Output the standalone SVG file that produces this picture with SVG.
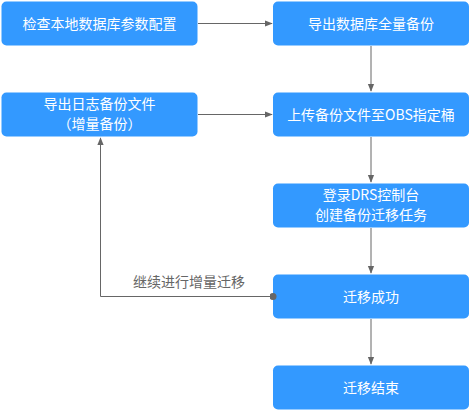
<svg xmlns="http://www.w3.org/2000/svg" width="471" height="411" viewBox="0 0 471 411">
<defs>
<marker id="arr" viewBox="0 0 10 10" refX="9" refY="5" markerWidth="8" markerHeight="8" markerUnits="userSpaceOnUse" orient="auto"><path d="M0,1 L10,5 L0,9 Z" fill="#666"/></marker>
<marker id="dot" viewBox="0 0 10 10" refX="5" refY="5" markerWidth="7" markerHeight="7" markerUnits="userSpaceOnUse"><circle cx="5" cy="5" r="5" fill="#666"/></marker>
</defs>
<style>
.box{fill:#3399ff;}
.t{fill:#fff;font-family:"Noto Sans CJK SC","Liberation Sans",sans-serif;font-size:14px;text-anchor:middle;}
.e{stroke:#666;stroke-width:1;fill:none;}
.lbl{fill:#666;font-family:"Noto Sans CJK SC","Liberation Sans",sans-serif;font-size:14px;text-anchor:middle;}
</style>
<rect width="471" height="411" fill="#fff"/>
<g id="n1"><rect class="box" x="1.5" y="1.5" width="196" height="44" rx="5"/><text class="t" x="99.5" y="28.5">检查本地数据库参数配置</text></g>
<g id="n2"><rect class="box" x="273" y="1.5" width="196" height="44" rx="5"/><text class="t" x="371" y="28.5">导出数据库全量备份</text></g>
<g id="n3"><rect class="box" x="1.5" y="92.5" width="196" height="44" rx="5"/><text class="t" x="99.5" y="109">导出日志备份文件</text><text class="t" x="99.5" y="129">（增量备份）</text></g>
<g id="n4"><rect class="box" x="273" y="92.5" width="196" height="44" rx="5"/><text class="t" x="371" y="119.5">上传备份文件至OBS指定桶</text></g>
<g id="n5"><rect class="box" x="273" y="183.5" width="196" height="44" rx="5"/><text class="t" x="371" y="200">登录DRS控制台</text><text class="t" x="371" y="220">创建备份迁移任务</text></g>
<g id="n6"><rect class="box" x="273" y="274.5" width="196" height="44" rx="5"/><text class="t" x="371" y="301.5">迁移成功</text></g>
<g id="n7"><rect class="box" x="273" y="365.5" width="196" height="44" rx="5"/><text class="t" x="371" y="392.5">迁移结束</text></g>
<g id="connectors">
<path class="e" d="M198,23.5 H272" marker-end="url(#arr)"/>
<path class="e" d="M198,114.5 H272" marker-end="url(#arr)"/>
<path class="e" d="M371,46 V91" marker-end="url(#arr)"/>
<path class="e" d="M371,137 V182" marker-end="url(#arr)"/>
<path class="e" d="M371,228 V273" marker-end="url(#arr)"/>
<path class="e" d="M371,319 V364" marker-end="url(#arr)"/>
<path class="e" d="M273,296.5 H100.5 V138" marker-start="url(#dot)" marker-end="url(#arr)"/>
<text class="lbl" x="189" y="287">继续进行增量迁移</text>
</g>
</svg>
